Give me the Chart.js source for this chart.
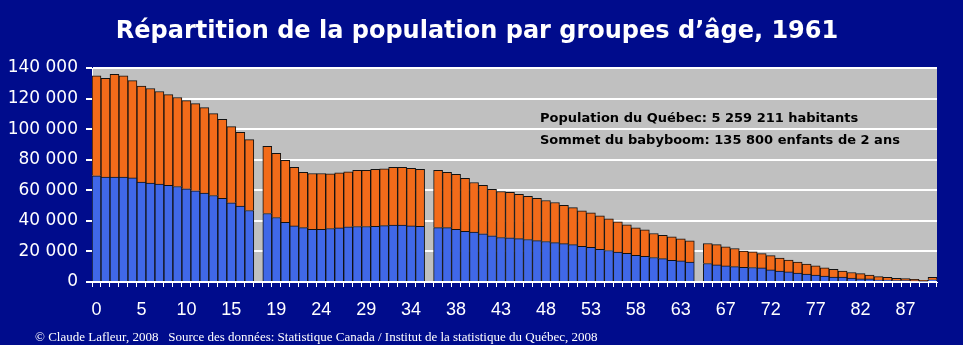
<!DOCTYPE html>
<html lang="fr">
<head>
<meta charset="utf-8">
<title>Répartition de la population par groupes d'âge, 1961</title>
<script src="https://cdn.jsdelivr.net/npm/chart.js@4/dist/chart.umd.min.js"></script>
<style>
  html, body { margin: 0; padding: 0; background: #000c8c; }
  #wrap { width: 963px; height: 345px; position: relative; }
</style>
</head>
<body>
<div id="wrap"><canvas id="pyramide"></canvas></div>
<script>
// Âges (une case vide = séparation entre groupes)
const ages = [
  '0','1','2','3','4','5','6','7','8','9','10','11','12','13','14','15','16','17',
  '',
  '18','19','20','21','22','23','24','25','26','27','28','29','30','31','32','33','34','35',
  '',
  '36','37','38','39','40','41','42','43','44','45','46','47','48','49','50','51','52','53',
  '54','55','56','57','58','59','60','61','62','63','64',
  '',
  '65','66','67','68','69','70','71','72','73','74','75','76','77','78','79','80','81','82',
  '83','84','85','86','87','88','89','90+'
];

// Partie bleue (bas de la barre)
const partieBleue = [
  69500, 68600, 68600, 68600, 68100, 65400, 64700, 64000, 63200, 62500, 61000, 59700, 58100, 56600, 54700, 51800, 49600, 46800,
  null,
  44800, 42200, 39100, 36700, 35600, 34500, 34500, 35000, 35400, 36100, 36300, 36300, 36500, 36900, 37200, 37200, 36700, 36500,
  null,
  35600, 35600, 34500, 33200, 32600, 31500, 30200, 29100, 28900, 28400, 27800, 27100, 26500, 25800, 25100, 24500, 23400, 22700,
  21400, 20600, 19500, 18800, 17500, 16800, 16000, 15300, 14200, 13800, 13100,
  null,
  12100, 11200, 10500, 10100, 9600, 9500, 9200, 7900, 7200, 6600, 5900, 5200, 4600, 3900, 3300, 3300, 2600, 2000,
  2000, 1300, 1300, 1000, 900, 700, 500, 1500
];

// Partie orange (haut de la barre)
const partieOrange = [
  65400, 64700, 67200, 66300, 63600, 62700, 61900, 60600, 59400, 58200, 57700, 57000, 56000, 53600, 51800, 49800, 48300, 46300,
  null,
  44000, 42000, 40500, 38300, 36100, 36500, 36500, 35800, 36100, 36000, 36700, 36700, 37200, 37200, 37800, 37800, 37600, 37200,
  null,
  37400, 36100, 35900, 34600, 32500, 31700, 30400, 30100, 29700, 28900, 28200, 27600, 26800, 26200, 25000, 24200, 23200, 22500,
  21900, 20700, 19800, 18600, 17900, 17300, 15700, 15300, 15300, 14400, 13800,
  null,
  13100, 13300, 12500, 11800, 10700, 10200, 9400, 9400, 8500, 7800, 7200, 6600, 5900, 5300, 5000, 3900, 3600, 3500,
  2600, 2200, 1800, 1400, 1300, 1000, 600, 1600
];

const titre = 'Répartition de la population par groupes d’âge, 1961';
const notes = [
  'Population du Québec: 5 259 211 habitants',
  'Sommet du babyboom: 135 800 enfants de 2 ans'
];
const source = '© Claude Lafleur, 2008   Source des données: Statistique Canada / Institut de la statistique du Québec, 2008';

function formatMilliers(v) {
  return String(v).replace(/\B(?=(\d{3})+(?!\d))/g, ' ');
}

// Fond gris de la zone de tracé + textes
const decor = {
  id: 'decor',
  beforeDraw(chart) {
    const { ctx, chartArea: a } = chart;
    ctx.save();
    ctx.fillStyle = '#c0c0c0';
    ctx.fillRect(a.left, a.top, a.right - a.left, a.bottom - a.top);
    ctx.restore();
  },
  afterDraw(chart) {
    const { ctx } = chart;
    ctx.save();
    ctx.textBaseline = 'middle';
    // titre
    ctx.fillStyle = '#fff';
    ctx.textAlign = 'center';
    ctx.font = 'bold 24px "DejaVu Sans"';
    ctx.fillText(titre, 477, 32);
    // notes
    ctx.textAlign = 'left';
    ctx.fillStyle = '#000';
    ctx.font = 'bold 13px "DejaVu Sans"';
    ctx.fillText(notes[0], 540, 119);
    ctx.fillText(notes[1], 540, 141);
    // source
    ctx.fillStyle = '#fff';
    ctx.font = '13px "Liberation Serif"';
    ctx.fillText(source, 35, 338);
    ctx.restore();
  }
};

const ctx = document.getElementById('pyramide');
new Chart(ctx, {
  type: 'bar',
  data: {
    labels: ages,
    datasets: [{
      label: 'Bas',
      data: partieBleue,
      backgroundColor: '#4068e8',
      borderColor: '#111',
      borderWidth: 1
    }, {
      label: 'Haut',
      data: partieOrange,
      backgroundColor: '#f26b1a',
      borderColor: '#111',
      borderWidth: 1
    }]
  },
  options: {
    responsive: true,
    maintainAspectRatio: false,
    animation: false,
    datasets: { bar: { barPercentage: 1, categoryPercentage: 1 } },
    layout: { padding: { top: 68, left: 0, right: 26, bottom: 0 } },
    plugins: {
      legend: { display: false },
      tooltip: { enabled: false },
      title: { display: false }
    },
    scales: {
      x: {
        stacked: true,
        offset: true,
        grid: { offset: true, drawOnChartArea: false, color: '#fff', tickLength: 5 },
        border: { color: '#fff', width: 1 },
        ticks: {
          autoSkip: false,
          maxRotation: 0,
          color: '#fff',
          padding: 12,
          font: { family: '"Liberation Sans"', size: 18 },
          callback: function(value, index) {
            return index % 5 === 0 ? ages[index] : '';
          }
        },
        afterFit: function(scale) { scale.height = 63; }
      },
      y: {
        stacked: true,
        min: 0,
        max: 140000,
        grid: { color: '#fff', lineWidth: 2, tickLength: 6 },
        border: { color: '#fff', width: 1 },
        ticks: {
          stepSize: 20000,
          color: '#fff',
          padding: 8,
          font: { family: '"DejaVu Sans"', size: 17 },
          callback: function(value) { return formatMilliers(value); }
        },
        afterFit: function(scale) { scale.width = 92; }
      }
    }
  },
  plugins: [decor]
});
</script>
</body>
</html>
